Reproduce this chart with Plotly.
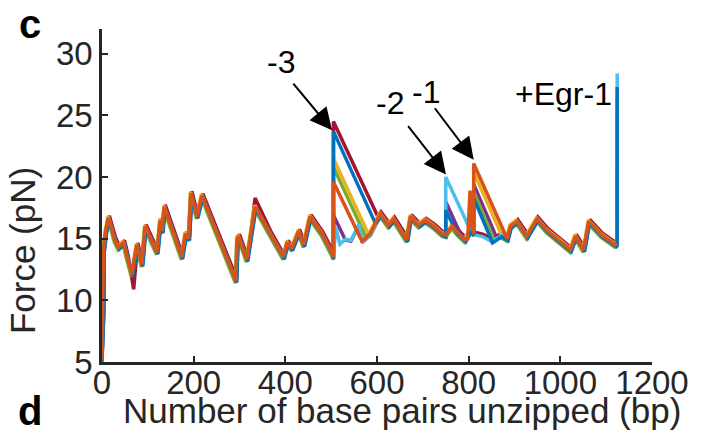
import plotly.graph_objects as go

# Shared unzipping profile (bp, force in pN) common to all traces
base_bp = [0, 2, 3, 8, 14, 20, 28, 36, 47, 55, 65, 76, 87, 94, 120, 127, 131, 136,
           174, 182, 189, 194, 207, 218, 292, 295, 298, 316, 334, 367, 396, 404, 414,
           429, 440, 454, 480, 502, 505, 509, 518, 530, 542, 560, 567, 585, 607, 625,
           636, 665, 673, 691, 705, 724, 742, 750, 764, 778, 792, 805, 811, 830, 850,
           870, 884, 891, 905, 927, 949, 970, 1000, 1022, 1033, 1051, 1062, 1090,
           1120, 1124]
base_f = [5.2, 9.0, 14.0, 15.6, 16.7, 16.0, 14.9, 14.3, 14.7, 13.5, 12.1, 14.5, 12.9,
          16.0, 13.9, 16.5, 15.6, 17.6, 13.5, 15.4, 15.0, 18.7, 16.8, 18.5, 11.6, 15.0,
          15.2, 13.3, 17.6, 15.4, 13.5, 14.7, 14.2, 15.6, 14.5, 16.8, 15.4, 13.8, 13.5,
          16.0, 14.6, 15.0, 14.9, 16.2, 14.8, 15.4, 17.0, 16.1, 16.6, 14.9, 16.8, 16.1,
          16.5, 16.0, 15.4, 15.3, 16.0, 15.4, 14.9, 15.8, 15.4, 15.2, 14.8, 15.3, 15.0,
          16.0, 16.4, 15.2, 16.6, 15.7, 14.8, 14.1, 15.2, 14.1, 16.4, 15.3, 14.5, 14.6]

# Binding sites (bp)
site_3, site_2, site_1, site_end = 505, 750, 811, 1124

# Traces: dark red, yellow, purple, green, light blue, blue, orange
colors = ["#A2142F", "#EDB120", "#7E2F8E", "#77AC30", "#4DBEEE", "#0072BD", "#D95319"]

# Force peaks at each site and where each decay rejoins the profile
peak3_f = [24.5, 21.5, 16.9, 20.8, None, 23.7, 19.6]
peak3_end_bp = [603, 582, 529, 576, None, 597, 566]
peak3_end_f = [16.7, 15.3, 15.0, 15.1, None, 16.2, 15.0]

peak2_f = [None, None, 18.0, None, 20.0, 17.3, None]
peak2_end_bp = [None, None, 783, None, 805, 775, None]
peak2_end_f = [None, None, 15.3, None, 15.6, 15.4, None]

peak1_f = [None, 20.4, 19.4, 18.8, None, 18.3, 21.1]
peak1_end_bp = [None, 873, 862, 855, None, 848, 884]
peak1_end_f = [None, 15.2, 15.0, 14.9, None, 14.9, 15.0]

final_f = [20.3, None, 25.0, 26.4, 28.4, 27.3, None]

# Small trace-to-trace variation of the shared profile
shift_bp = [2, -1, 1, -1, 1, 2, 0]
shift_f = [0.15, 0.1, -0.1, -0.2, -0.05, -0.15, 0.0]

# Trace-specific features
red_dip_bp, red_dip_f = [69], [10.9]
red_peak_bp, red_peak_f = [334], [18.3]
orange_spike_bp, orange_spike_f = [798, 803, 806], [15.0, 18.9, 16.0]

fixed = {0, site_3, site_2, site_1, site_end}


def build(i):
    pts = []
    for bp, f in zip(base_bp, base_f):
        x = bp if bp in fixed else bp + shift_bp[i]
        pts.append((x, f + shift_f[i]))
    segs = []
    for site, pk, eb, ef in [(site_3, peak3_f[i], peak3_end_bp[i], peak3_end_f[i]),
                             (site_2, peak2_f[i], peak2_end_bp[i], peak2_end_f[i]),
                             (site_1, peak1_f[i], peak1_end_bp[i], peak1_end_f[i])]:
        if pk is not None:
            segs.append((site, eb, [(site, pk), (eb, ef)]))
    if final_f[i] is not None:
        segs.append((site_end, 1e9, [(site_end, final_f[i])]))
    if i == 0:
        segs.append((60, 72, list(zip(red_dip_bp, red_dip_f))))
        segs.append((330, 338, list(zip(red_peak_bp, red_peak_f))))
    if i == 6:
        segs.append((795, 810, list(zip(orange_spike_bp, orange_spike_f))))
    for lo, hi, new in segs:
        pts = [p for p in pts if not (lo < p[0] <= hi)]
        pts += new
    pts = sorted(pts, key=lambda p: p[0])
    return [p[0] for p in pts], [p[1] for p in pts]


fig = go.Figure()
for i, c in enumerate(colors):
    xs, ys = build(i)
    fig.add_trace(go.Scatter(x=xs, y=ys, mode="lines",
                             line=dict(color=c, width=3.5), hoverinfo="skip"))

FONT = "Liberation Sans, Arial, Helvetica, sans-serif"
INK = "#262626"

axis_common = dict(ticks="inside", ticklen=6, tickwidth=2, tickcolor=INK,
                   showline=True, linewidth=2.5, linecolor=INK,
                   showgrid=False, zeroline=False,
                   tickfont=dict(family=FONT, size=33, color=INK))

fig.update_layout(
    width=704, height=435, autosize=False,
    margin=dict(l=102, r=52, t=29, b=73),
    plot_bgcolor="white", paper_bgcolor="white",
    showlegend=False,
    font=dict(family=FONT, size=33, color=INK),
    xaxis=dict(range=[0, 1200], tickvals=[0, 200, 400, 600, 800, 1000, 1200],
               ticklabelstandoff=-10, **axis_common),
    yaxis=dict(range=[5, 32], tickvals=[5, 10, 15, 20, 25, 30], **axis_common),
)

# Arrows pointing at the dissociation peaks
for x, y, ax, ay in [(502, 23.8, -40, -48), (750.5, 20.2, -39, -50), (811, 21.4, -40, -53)]:
    fig.add_annotation(x=x, y=y, xref="x", yref="y", text="", showarrow=True,
                       ax=ax, ay=ay, arrowhead=2, arrowsize=2.2, arrowwidth=2,
                       arrowcolor="black", standoff=0)

label_font = dict(family=FONT, size=32, color="black")
for x, y, t in [(390, 29.3, "-3"), (628, 26.0, "-2"), (707, 26.9, "-1")]:
    fig.add_annotation(x=x, y=y, xref="x", yref="y", text=t, showarrow=False,
                       xanchor="center", yanchor="middle", font=label_font)
fig.add_annotation(x=1118, y=26.7, xref="x", yref="y", text="+Egr-1", showarrow=False,
                   xanchor="right", yanchor="middle", font=label_font)

# Axis titles
title_font = dict(family=FONT, size=35, color=INK)
fig.add_annotation(x=-0.1455, y=0.336, xref="paper", yref="paper", text="Force (pN)",
                   textangle=-90, showarrow=False, xanchor="center", yanchor="middle",
                   font=title_font)
fig.add_annotation(x=0.545, y=-0.147, xref="paper", yref="paper",
                   text="Number of base pairs unzipped (bp)", showarrow=False,
                   xanchor="center", yanchor="middle", font=title_font)

# Panel letters
letter_font = dict(family=FONT, size=40, color="black")
fig.add_annotation(x=-0.131, y=1.015, xref="paper", yref="paper", text="<b>c</b>",
                   showarrow=False, xanchor="center", yanchor="middle", font=letter_font)
fig.add_annotation(x=-0.131, y=-0.147, xref="paper", yref="paper", text="<b>d</b>",
                   showarrow=False, xanchor="center", yanchor="middle", font=letter_font)

fig.write_html("out.html")
